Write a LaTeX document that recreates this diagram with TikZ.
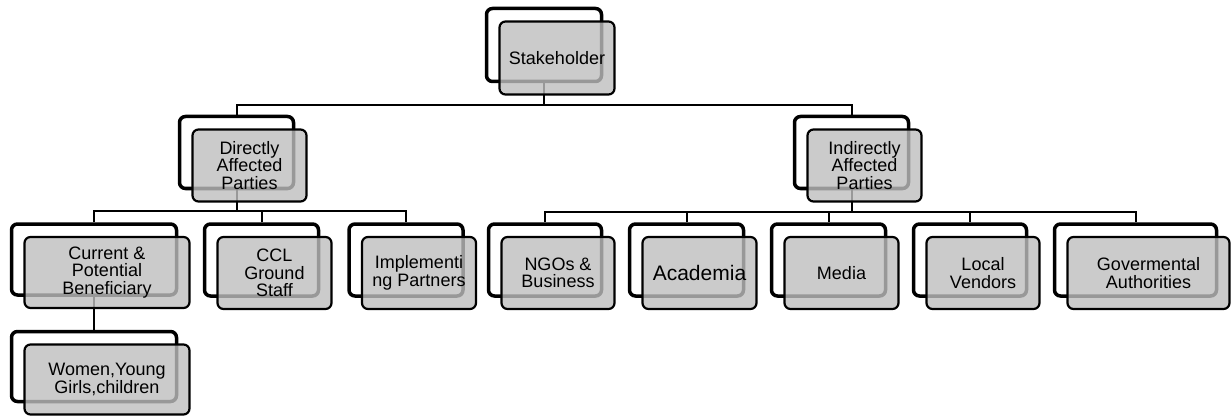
\documentclass[tikz,border=0pt]{standalone}
\usepackage{fontspec}
\setmainfont{Liberation Sans}
\usetikzlibrary{positioning,calc}
\definecolor{boxgray}{RGB}{190,190,190}
\tikzset{
  back/.style={draw=black, line width=3.5pt, rounded corners=6pt, fill=white, inner sep=0pt},
  front/.style={draw=black, line width=2.2pt, rounded corners=6pt, fill=boxgray,
    fill opacity=0.8, text opacity=1, inner sep=0pt, align=center,
    font=\fontsize{18}{17.5}\selectfont},
  link/.style={line width=2pt},
}

\begin{document}
\begin{tikzpicture}[x=1pt,y=-1pt]
  \useasboundingbox (0,0) rectangle (1232,417);

  % back frames
  \foreach \nm/\cx/\cy/\w/\h in {stake/544/45/115/73, direct/236.5/152.5/114/72,
      indirect/851.5/152.5/114/72, current/94/259.5/165/71, ccl/261.5/260/114/72,
      impl/406/260/114/72, women/94/366.5/165/70, ngo/545/260/113/72,
      acad/686.5/260/114/72, media/828.5/260/114/72, local/970/260/113/72,
      gov/1135.5/260/162/72}
    {
      \node[back, minimum width=\w pt, minimum height=\h pt] (b-\nm) at (\cx,\cy) {};
    }

  % connectors
  \draw[link] (b-stake.south) -- ++(0,22) coordinate (j-top);
  \draw[link] (b-direct.north) |- (j-top) -| (b-indirect.north);

  \draw[link] (b-direct.south) -- ++(0,21) coordinate (j-dir);
  \draw[link] (b-current.north) |- (j-dir) -| (b-impl.north);
  \draw[link] (b-ccl.north) -- (b-ccl.north |- j-dir);
  \draw[link] (b-current.south) -- (b-women.north);

  \draw[link] (b-indirect.south) -- ++(0,22) coordinate (j-ind);
  \draw[link] (b-ngo.north) |- (j-ind) -| (b-gov.north);
  \foreach \nm in {acad,media,local}
    \draw[link] (b-\nm.north) -- (b-\nm.north |- j-ind);

  % front boxes
  \foreach \nm/\w/\h/\txt in {stake/115/73/Stakeholder,
      direct/114/72/{Directly\\Affected\\Parties},
      indirect/114/72/{Indirectly\\Affected\\Parties},
      current/165/71/{Current \&\\Potential\\Beneficiary},
      ccl/114/72/{CCL\\Ground\\Staff},
      impl/114/72/{Implementi\\ng Partners},
      women/165/70/{Women,Young\\Girls,children},
      ngo/113/72/{NGOs \&\\Business},
      acad/114/72/{{\fontsize{21}{22}\selectfont Academia}},
      media/114/72/Media,
      local/113/72/{Local\\Vendors},
      gov/162/72/{Govermental\\Authorities}}
    {
      \node[front, minimum width=\w pt, minimum height=\h pt] (f-\nm)
        at ($(b-\nm)+(13,13)$) {\txt};
    }
\end{tikzpicture}
\end{document}
